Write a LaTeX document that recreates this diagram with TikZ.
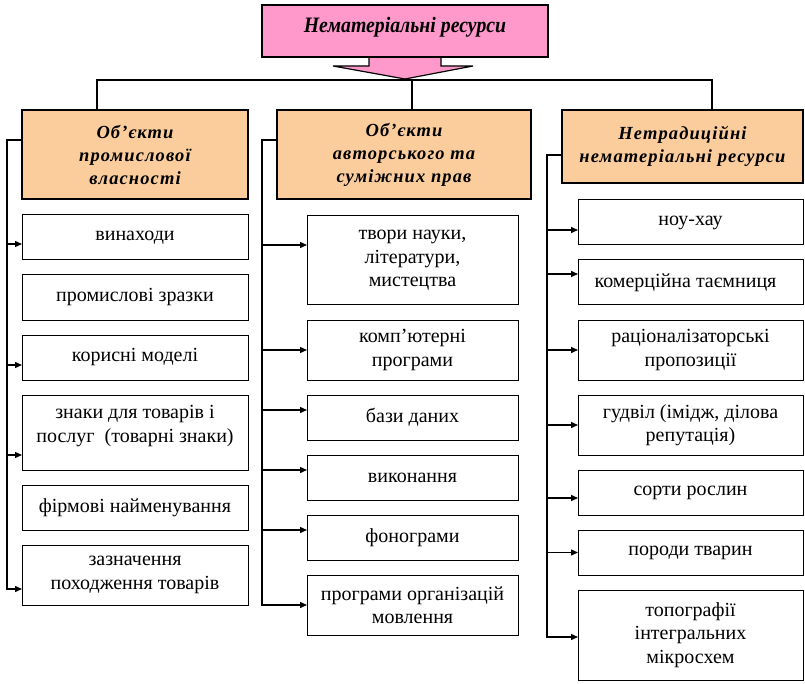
\documentclass[tikz,border=0pt]{standalone}
\usepackage{fontspec}
\setmainfont{Liberation Serif}
\newfontfamily\hdfont[LetterSpace=6]{Liberation Serif}
\newfontfamily\ttlfont[FakeStretch=0.9]{Liberation Serif}
\usetikzlibrary{arrows.meta}
\definecolor{pinkfill}{RGB}{255,153,204}
\definecolor{orangefill}{RGB}{251,204,156}
\begin{document}
\begin{tikzpicture}[x=1pt,y=-1pt,
 every node/.style={inner sep=0pt, outer sep=0pt},
 item/.style={draw, line width=1pt, anchor=north west, align=center, font=\fontsize{20}{23.5}\selectfont},
 head/.style={draw, line width=1.8pt, fill=orangefill, anchor=north west, align=center, font=\hdfont\bfseries\itshape\fontsize{18.5}{23}\selectfont},
 ttl/.style={draw, line width=1.2pt, fill=pinkfill, anchor=north west, align=center, minimum width=286pt, minimum height=52pt, font=\ttlfont\bfseries\itshape\fontsize{22}{24}\selectfont},
 arr/.style={line width=1.4pt, -{Triangle[length=7pt,width=6pt]}}]
\useasboundingbox (0,0) rectangle (805,684);

% title and block arrow
\node[ttl] (title0) at (262,5) {};
\draw[line width=1.2pt, fill=pinkfill] ([xshift=-36pt]title0.south) -- ++(0,9) -- ++(-36,0) -- ([yshift=-22pt]title0.south) -- ++(68,-13) -- ++(-32,0) -- ++(0,-9);
\node[ttl] (title) at (262,5) {Нематеріальні ресурси\\[-12pt]};

% headers
\node[head, minimum width=226pt, minimum height=89pt] (b1) at (22,110) {Об’єкти\\промислової\\власності};
\node[head, minimum width=254pt, minimum height=89pt] (b2) at (277,110) {Об’єкти\\авторського та\\суміжних прав};
\node[head, minimum width=241pt, minimum height=73pt] (b3) at (562,110) {Нетрадиційні\\нематеріальні ресурси};

% bus
\coordinate (c1) at (97,80);
\coordinate (c2) at (412,80);
\coordinate (c3) at (712,80);
\draw[line width=1.2pt] (c1 |- b1.north) -- (c1) -- (c3) -- (c3 |- b3.north);
\draw[line width=1.2pt] (c2) -- (c2 |- b2.north);

% left column
\node[item, minimum width=226pt, minimum height=45pt] (l1) at (22,215) {винаходи};
\node[item, minimum width=226pt, minimum height=45pt] (l2) at (22,275) {промислові зразки};
\node[item, minimum width=226pt, minimum height=45pt] (l3) at (22,335) {корисні моделі};
\node[item, minimum width=226pt, minimum height=75pt] (l4) at (22,395) {знаки для товарів і\\послуг~ (товарні знаки)\\[-6.5pt]};
\node[item, minimum width=226pt, minimum height=45pt] (l5) at (22,485) {фірмові найменування};
\node[item, minimum width=226pt, minimum height=60pt] (l6) at (22,545) {зазначення\\походження товарів};

\coordinate (ls) at (7,140);
\draw[arr] (ls -| b1.west) -- (ls) |- ([yshift=-14pt]l6.west);
\draw[arr] ([yshift=-6.5pt]l1.west -| ls) -- ([yshift=-6.5pt]l1.west);
\draw[arr] ([yshift=-7.5pt]l3.west -| ls) -- ([yshift=-7.5pt]l3.west);
\draw[arr] ([yshift=-22.5pt]l4.west -| ls) -- ([yshift=-22.5pt]l4.west);

% middle column
\node[item, minimum width=211pt, minimum height=89pt] (m1) at (307,216) {твори науки,\\літератури,\\мистецтва};
\node[item, minimum width=211pt, minimum height=60pt] (m2) at (307,320) {комп’ютерні\\програми};
\node[item, minimum width=211pt, minimum height=45pt] (m3) at (307,395) {бази даних};
\node[item, minimum width=211pt, minimum height=45pt] (m4) at (307,455) {виконання};
\node[item, minimum width=211pt, minimum height=45pt] (m5) at (307,515) {фонограми};
\node[item, minimum width=211pt, minimum height=60pt] (m6) at (307,575) {програми організацій\\мовлення};

\coordinate (ms) at (262,140);
\draw[arr] (ms -| b2.west) -- (ms) |- (m6.west);
\draw[arr] ([yshift=15.5pt]m1.west -| ms) -- ([yshift=15.5pt]m1.west);
\draw[arr] (m2.west -| ms) -- (m2.west);
\draw[arr] ([yshift=7.5pt]m3.west -| ms) -- ([yshift=7.5pt]m3.west);
\draw[arr] ([yshift=7.5pt]m4.west -| ms) -- ([yshift=7.5pt]m4.west);
\draw[arr] ([yshift=7.5pt]m5.west -| ms) -- ([yshift=7.5pt]m5.west);

% right column
\node[item, minimum width=225pt, minimum height=45pt] (r1) at (578,200) {ноу-хау};
\node[item, minimum width=225pt, minimum height=45pt] (r2) at (578,260) {комерційна таємниця~~};
\node[item, minimum width=225pt, minimum height=60pt] (r3) at (578,320) {раціоналізаторські\\пропозиції};
\node[item, minimum width=225pt, minimum height=60pt] (r4) at (578,395) {гудвіл (імідж, ділова\\репутація)};
\node[item, minimum width=225pt, minimum height=45pt] (r5) at (578,470) {сорти рослин};
\node[item, minimum width=225pt, minimum height=45pt] (r6) at (578,530) {породи тварин};
\node[item, minimum width=225pt, minimum height=90pt] (r7) at (578,590) {топографії\\інтегральних\\мікросхем};

\coordinate (rs) at (547,155);
\draw[arr] (rs -| b3.west) -- (rs) |- ([yshift=-2pt]r7.west);
\draw[arr] ([yshift=-7.5pt]r1.west -| rs) -- ([yshift=-7.5pt]r1.west);
\draw[arr] ([yshift=8.5pt]r2.west -| rs) -- ([yshift=8.5pt]r2.west);
\draw[arr] (r3.west -| rs) -- (r3.west);
\draw[arr] (r4.west -| rs) -- (r4.west);
\draw[arr] ([yshift=-5.5pt]r5.west -| rs) -- ([yshift=-5.5pt]r5.west);
\draw[arr] (r6.west -| rs) -- (r6.west);
\end{tikzpicture}
\end{document}
